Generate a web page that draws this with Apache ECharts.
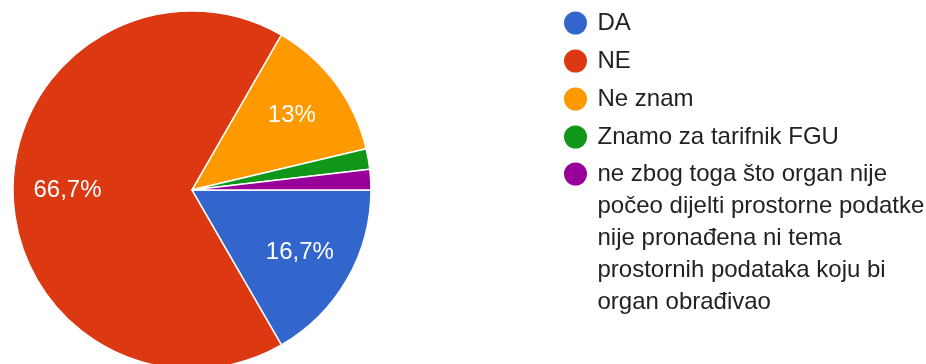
<!DOCTYPE html>
<html>
<head>
<meta charset="utf-8">
<script src="https://cdn.jsdelivr.net/npm/echarts@6/dist/echarts.min.js"></script>
<style>
  html, body { margin: 0; padding: 0; background: #fff; }
  #chart { width: 926px; height: 364px; }
</style>
</head>
<body>
<div id="chart"></div>
<script>
// Survey answers and their response counts
const categories = [
  'DA',
  'NE',
  'Ne znam',
  'Znamo za tarifnik FGU',
  'ne zbog toga što organ nije počeo dijelti prostorne podatke nije pronađena ni tema prostornih podataka koju bi organ obrađivao'
];
const counts = [9, 36, 7, 1, 1];
const colors = ['#3366cc', '#dc3912', '#ff9900', '#109618', '#990099'];
// Wrapped lines of the long answer as shown in the legend
const longAnswerLines = [
  'ne zbog toga što organ nije',
  'počeo dijelti prostorne podatke',
  'nije pronađena ni tema',
  'prostornih podataka koju bi',
  'organ obrađivao'
];

const total = counts.reduce((a, b) => a + b, 0);
function pctText(v) {
  let s = (v / total * 100).toFixed(1);
  if (s.endsWith('.0')) s = s.slice(0, -2);
  return s.replace('.', ',') + '%';
}

const FONT = '"Liberation Sans", Arial, sans-serif';
const cx = 192, cy = 190, R = 179;

const pieData = categories.map((name, i) => ({
  name, value: counts[i], itemStyle: { color: colors[i] }
}));
const labelData = categories.map((name, i) => ({
  name, value: counts[i],
  label: { show: counts[i] / total >= 0.05 }
}));

const legendCommon = {
  orient: 'vertical',
  left: 564,
  padding: 0,
  icon: 'circle',
  itemWidth: 34,
  itemHeight: 23,
  itemGap: 6,
  selectedMode: false,
  itemStyle: { borderWidth: 0 },
  textStyle: { fontFamily: FONT, fontSize: 24, color: '#222', lineHeight: 32 }
};

// The multi-line legend entry is vertically centred on its icon, so blank
// lines above the text keep the first line level with the icon.
const padAbove = '\n'.repeat(longAnswerLines.length - 1);

const chart = echarts.init(document.getElementById('chart'), null, { renderer: 'canvas' });
chart.setOption({
  animation: false,
  legend: [
    Object.assign({}, legendCommon, { top: 7, data: categories.slice(0, 4) }),
    Object.assign({}, legendCommon, {
      top: 30,
      data: categories.slice(4),
      formatter: () => padAbove + longAnswerLines.join('\n')
    })
  ],
  series: [
    {
      type: 'pie',
      center: [cx, cy],
      radius: [0, R],
      startAngle: 0,
      clockwise: true,
      data: pieData,
      label: { show: false },
      labelLine: { show: false },
      itemStyle: { borderColor: '#fff', borderWidth: 1.5 },
      emphasis: { disabled: true }
    },
    {
      type: 'pie',
      center: [cx, cy],
      radius: [64, R],
      startAngle: 0,
      clockwise: true,
      silent: true,
      legendHoverLink: false,
      data: labelData,
      itemStyle: { color: 'rgba(0,0,0,0)' },
      label: {
        position: 'inside',
        formatter: p => pctText(p.value),
        color: '#fff',
        fontFamily: FONT,
        fontSize: 24
      },
      labelLine: { show: false },
      emphasis: { disabled: true }
    }
  ]
});
</script>
</body>
</html>
